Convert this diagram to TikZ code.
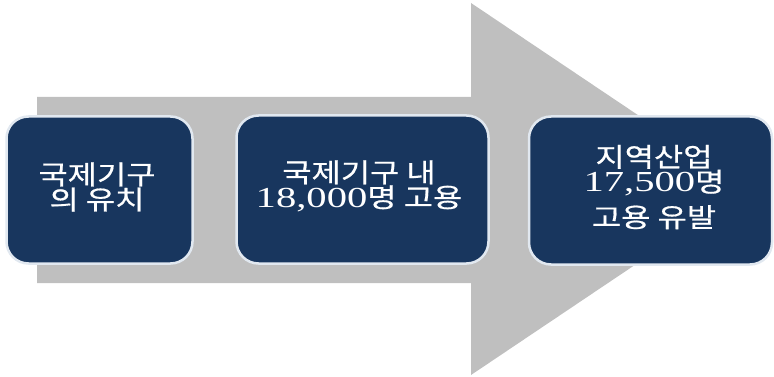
\documentclass[tikz,border=0pt]{standalone}
\usepackage{fontspec}
\newfontfamily\krfont[FakeStretch=1.2,FakeBold=0.6]{Noto Sans CJK KR}
\newfontfamily\digfont[FakeStretch=1.4]{Liberation Serif}
\newcommand{\dg}[1]{{\digfont\fontsize{29}{23}\selectfont #1}}
\definecolor{arrowgray}{RGB}{191,191,191}
\definecolor{navy}{RGB}{24,54,94}
\definecolor{rim}{RGB}{225,232,240}
\tikzset{
  stepbox/.style={draw=rim, line width=2.5pt, fill=navy, rounded corners=22pt,
    text=white, align=center, font=\krfont\fontsize{26.5}{23}\selectfont, inner sep=0pt}
}
\begin{document}
\begin{tikzpicture}[x=1pt,y=-1pt]
\useasboundingbox (0,0) rectangle (774,377);
\fill[arrowgray] (37,97) -- (471,97) -- (471,3) -- (748,189) -- (471,375) -- (471,283) -- (37,283) -- cycle;
\node[stepbox, minimum width=186pt, minimum height=147pt] (b1) at (99.5,190) {};
\node[text=white, align=center, font=\krfont\fontsize{26.5}{22}\selectfont] (t1) at (97,187) {국제기구\\의 유치};
\node[stepbox, minimum width=252pt, minimum height=148pt] (b2) at (362.5,189.5) {};
\node[text=white, align=center, font=\krfont\fontsize{26.5}{23}\selectfont] (t2) at (359,186) {국제기구 내\\\dg{18,000}명 고용};
\node[stepbox, minimum width=243pt, minimum height=148pt] (b3) at (650.5,190.5) {};
\node[text=white, align=center, font=\krfont\fontsize{26.5}{23}\selectfont] (t3) at (654,187) {지역산업\\\dg{17,500}명\\[8pt]고용 유발};
\end{tikzpicture}
\end{document}
